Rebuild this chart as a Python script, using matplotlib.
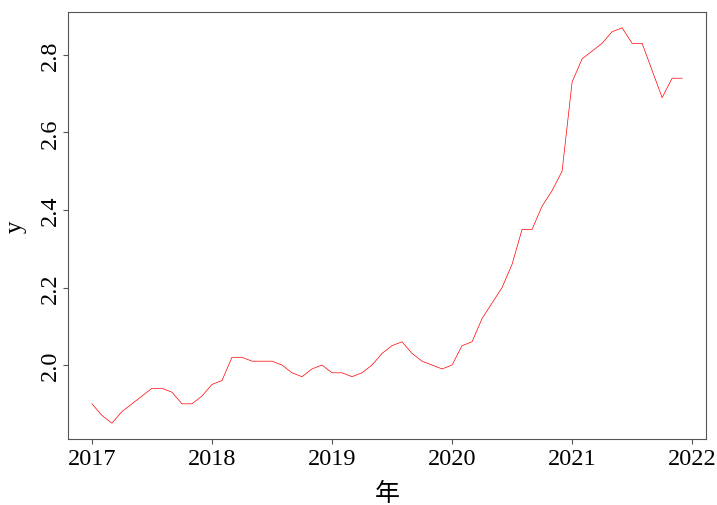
import numpy as np
import matplotlib
matplotlib.use("Agg")
import matplotlib.pyplot as plt

# monthly values, Jan 2017 .. Dec 2021
months = np.arange(60)
values = [1.90, 1.87, 1.85, 1.88, 1.90, 1.92, 1.94, 1.94, 1.93, 1.90, 1.90, 1.92,
          1.95, 1.96, 2.02, 2.02, 2.01, 2.01, 2.01, 2.00, 1.98, 1.97, 1.99, 2.00,
          1.98, 1.98, 1.97, 1.98, 2.00, 2.03, 2.05, 2.06, 2.03, 2.01, 2.00, 1.99,
          2.00, 2.05, 2.06, 2.12, 2.16, 2.20, 2.26, 2.35, 2.35, 2.41, 2.45, 2.50,
          2.73, 2.79, 2.81, 2.83, 2.86, 2.87, 2.83, 2.83, 2.76, 2.69, 2.74, 2.74]
years = 2017 + months / 12
xticks = [2017, 2018, 2019, 2020, 2021, 2022]
yticks = [2.0, 2.2, 2.4, 2.6, 2.8]

plt.rcParams['font.family'] = ['Liberation Serif', 'Noto Sans CJK SC']

fig = plt.figure(figsize=(7.17, 5.06), dpi=100)
ax = fig.add_axes([0.0953, 0.1304, 0.889, 0.8439])
ax.plot(years, values, color='red', lw=0.5)

# R style 4% padding
xr = years[-1] - years[0]
ax.set_xlim(years[0] - 0.04 * xr, years[-1] + 0.04 * xr)
yr = max(values) - min(values)
ax.set_ylim(min(values) - 0.04 * yr, max(values) + 0.04 * yr)

ax.set_xticks(xticks)
ax.set_yticks(yticks)
ax.set_yticklabels([f"{t:.1f}" for t in yticks], rotation=90, va='center')
for s in ax.spines.values():
    s.set_color('#555555')
    s.set_linewidth(0.8)
ax.tick_params(colors='#555555', labelcolor='black', length=3.6, width=0.8,
               labelsize=17.5)
ax.tick_params(axis='x', pad=3)
ax.tick_params(axis='y', pad=1.5)
ax.set_xlabel("年", fontsize=18, labelpad=9, fontweight='light')
ax.set_ylabel("y", fontsize=18, labelpad=9.5)

fig.savefig("out.png", dpi=100)
